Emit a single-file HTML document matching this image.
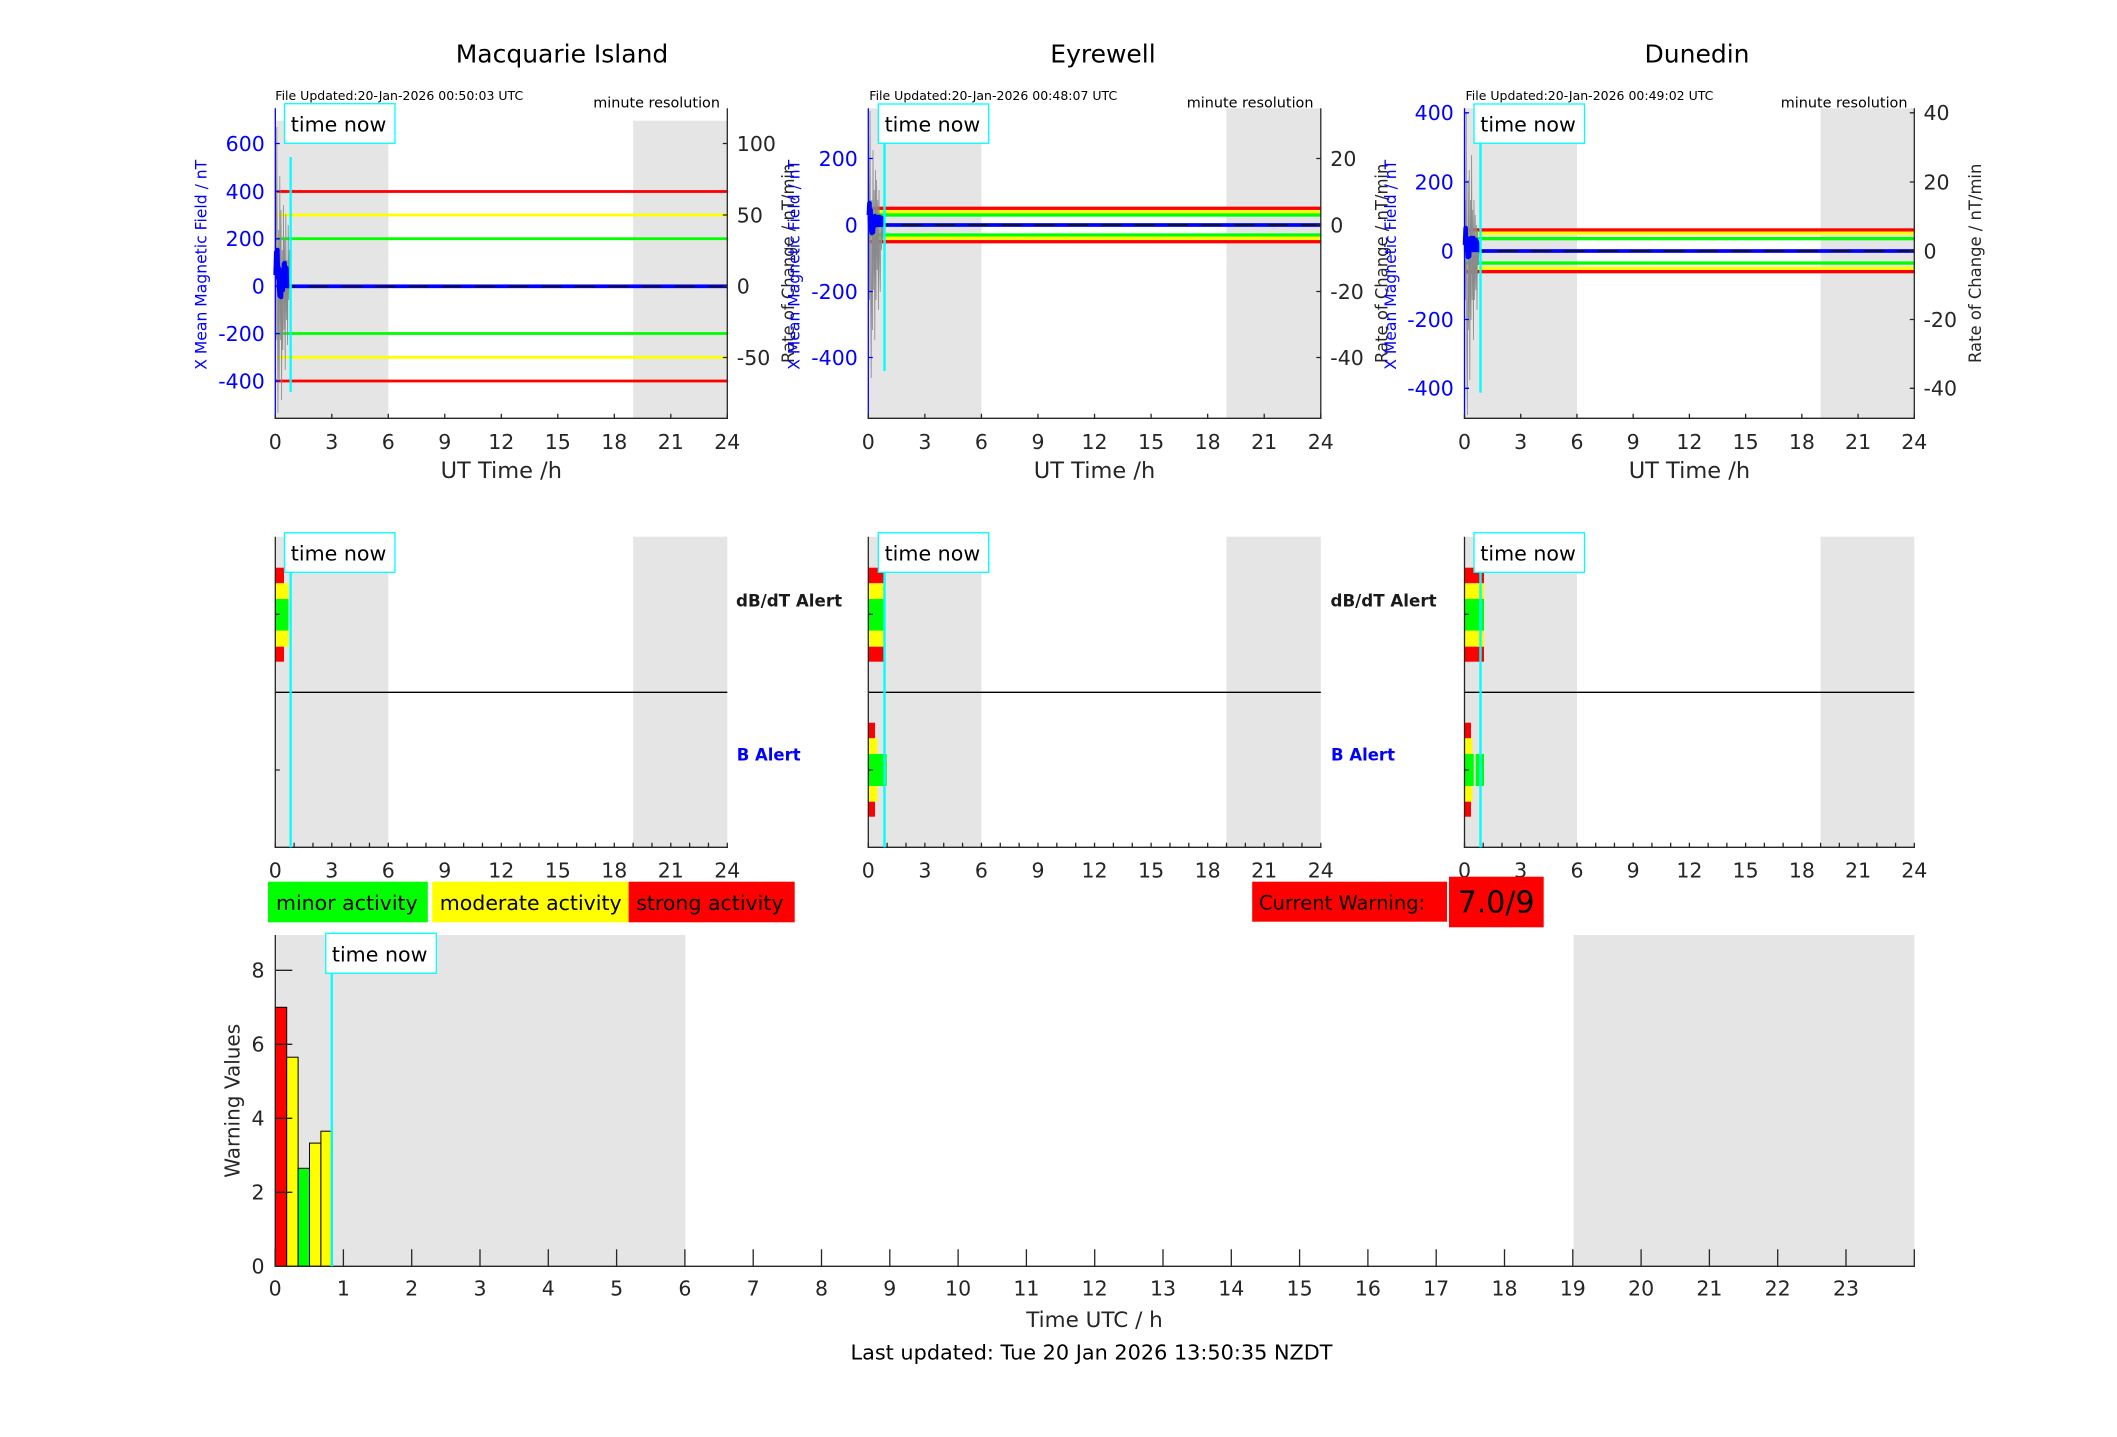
<!DOCTYPE html>
<html><head><meta charset="utf-8">
<style>
html,body{margin:0;padding:0;background:#fff}
svg{display:block}
text{font-family:"DejaVu Sans","Liberation Sans",sans-serif}
</style></head>
<body>
<svg width="2117" height="1437" viewBox="0 0 2117 1437" xmlns="http://www.w3.org/2000/svg">
<rect width="2117" height="1437" fill="#fff"/>

<!-- Titles -->
<text x="562" y="62.3" font-size="25" text-anchor="middle" fill="#000">Macquarie Island</text>
<text x="1103" y="62.3" font-size="25" text-anchor="middle" fill="#000">Eyrewell</text>
<text x="1697" y="62.3" font-size="25" text-anchor="middle" fill="#000">Dunedin</text>

<text x="275.3" y="100" font-size="12.5" fill="#000">File Updated:20-Jan-2026 00:50:03 UTC</text>
<text x="869.3" y="100" font-size="12.5" fill="#000">File Updated:20-Jan-2026 00:48:07 UTC</text>
<text x="1465.5" y="100" font-size="12.5" fill="#000">File Updated:20-Jan-2026 00:49:02 UTC</text>

<text x="720" y="107.3" font-size="14.4" text-anchor="end" fill="#000">minute resolution</text>
<text x="1313.5" y="107.3" font-size="14.4" text-anchor="end" fill="#000">minute resolution</text>
<text x="1907.5" y="107.3" font-size="14.4" text-anchor="end" fill="#000">minute resolution</text>

<!-- ===================== TOP: MACQUARIE ===================== -->
<rect x="275.3" y="120.7" width="113" height="297.6" fill="#e5e5e5"/>
<rect x="633.1" y="120.7" width="94.2" height="297.6" fill="#e5e5e5"/>
<rect x="275.3" y="190.1" width="452" height="2.8" fill="#ff0000"/>
<rect x="275.3" y="213.6" width="452" height="2.8" fill="#ffff00"/>
<rect x="275.3" y="237.3" width="452" height="2.8" fill="#00ff00"/>
<rect x="275.3" y="332.1" width="452" height="2.8" fill="#00ff00"/>
<rect x="275.3" y="355.9" width="452" height="2.8" fill="#ffff00"/>
<rect x="275.3" y="379.6" width="452" height="2.8" fill="#ff0000"/>
<rect x="275.3" y="284.45" width="452" height="3.7" fill="#0000ff"/>
<line x1="275.3" y1="286.3" x2="727.3" y2="286.3" stroke="#111" stroke-width="1.6" stroke-dasharray="20 13.3"/>
<polyline fill="none" stroke="#8a8a8a" stroke-width="0.8" points="275.6,160 276.2,340 276.8,127 277.4,300 278.0,413 278.6,230 279.2,380 279.8,176 280.4,340 281.0,210 281.6,400 282.2,250 282.8,350 283.4,205 284.0,330 284.6,240 285.2,370 285.8,214 286.4,320 287.0,260 287.6,345 288.2,225 288.8,300 289.4,250 290.0,286"/>
<polyline fill="none" stroke="#0000ff" stroke-width="4.5" stroke-linejoin="round" points="275.6,275 276.2,252 276.8,262 277.4,250 278.0,278 278.6,268 279.2,290 279.8,296 280.4,284 281.0,297 281.6,275 282.2,270 282.8,290 283.4,283 284.0,264 284.6,263 285.2,282 285.8,284 286.4,268 287.0,286 289,286"/>
<line x1="275.3" y1="108.3" x2="275.3" y2="418.3" stroke="#0000ff" stroke-width="1.3"/>
<line x1="727.3" y1="108.3" x2="727.3" y2="418.3" stroke="#262626" stroke-width="1.3"/>
<line x1="274.6" y1="418.3" x2="728" y2="418.3" stroke="#262626" stroke-width="1.3"/>
<path d="M275.3 143.5h4.5M275.3 191.5h4.5M275.3 238.8h4.5M275.3 286.3h4.5M275.3 333.6h4.5M275.3 381h4.5" stroke="#0000ff" stroke-width="1.3"/>
<path d="M727.3 143.5h-4.5M727.3 215h-4.5M727.3 286.3h-4.5M727.3 357.5h-4.5" stroke="#262626" stroke-width="1.3"/>
<line x1="274.65" y1="416.05" x2="728" y2="416.05" stroke="#262626" stroke-width="4.5" stroke-dasharray="1.3 55.2"/>
<rect x="289.5" y="157" width="2.3" height="235" fill="#00ffff"/>
<rect x="284.5" y="103.7" width="110.5" height="39.6" fill="#fff" stroke="#00ffff" stroke-width="1.3"/>
<text x="290.8" y="131.7" font-size="20.6" fill="#000">time now</text>
<g font-size="20.5" fill="#0000ff" text-anchor="end">
<text x="264.8" y="150.8">600</text><text x="264.8" y="198.8">400</text><text x="264.8" y="246.1">200</text><text x="264.8" y="293.6">0</text><text x="264.8" y="340.9">-200</text><text x="264.8" y="388.3">-400</text>
</g>
<g font-size="20.5" fill="#262626">
<text x="736.8" y="150.8">100</text><text x="736.8" y="222.3">50</text><text x="736.8" y="293.6">0</text><text x="736.8" y="364.8">-50</text>
</g>
<g font-size="20.5" fill="#262626" text-anchor="middle">
<text x="275.3" y="449">0</text><text x="331.8" y="449">3</text><text x="388.3" y="449">6</text><text x="444.8" y="449">9</text><text x="501.3" y="449">12</text><text x="557.8" y="449">15</text><text x="614.3" y="449">18</text><text x="670.8" y="449">21</text><text x="727.3" y="449">24</text>
</g>
<text x="501.3" y="478.2" font-size="22.5" text-anchor="middle" fill="#262626">UT Time /h</text>
<text transform="translate(206.7,264.8) rotate(-90)" font-size="15.6" text-anchor="middle" fill="#0000ff">X Mean Magnetic Field / nT</text>
<text transform="translate(794,263.3) rotate(-90)" font-size="16.4" text-anchor="middle" fill="#262626">Rate of Change / nT/min</text>

<!-- ===================== TOP: EYREWELL ===================== -->
<rect x="868.3" y="108.3" width="113.1" height="310" fill="#e5e5e5"/>
<rect x="1226.5" y="108.3" width="94.3" height="310" fill="#e5e5e5"/>
<rect x="868.3" y="206.65" width="452.5" height="3.3" fill="#ff0000"/>
<rect x="868.3" y="210.05" width="452.5" height="3.3" fill="#ffff00"/>
<rect x="868.3" y="213.35" width="452.5" height="3.3" fill="#00ff00"/>
<rect x="868.3" y="233.35" width="452.5" height="3.3" fill="#00ff00"/>
<rect x="868.3" y="236.65" width="452.5" height="3.3" fill="#ffff00"/>
<rect x="868.3" y="240.05" width="452.5" height="3.3" fill="#ff0000"/>
<rect x="868.3" y="223.15" width="452.5" height="3.7" fill="#0000ff"/>
<line x1="868.3" y1="225" x2="1320.8" y2="225" stroke="#111" stroke-width="1.6" stroke-dasharray="20 13.3"/>
<polyline fill="none" stroke="#8a8a8a" stroke-width="0.8" points="868.8,160 869.4,300 870.0,111 870.6,280 871.2,378 871.8,200 872.4,330 873.0,150 873.6,290 874.2,190 874.8,340 875.4,170 876.0,300 876.6,180 877.2,270 877.8,200 878.4,310 879.0,190 879.6,260 880.2,292 880.8,215 881.4,250 882.0,225 882.6,240 883.2,225"/>
<polyline fill="none" stroke="#0000ff" stroke-width="4.5" stroke-linejoin="round" points="868.8,215 869.4,203 870,222 870.6,210 871.2,230 871.8,233 872.4,224 873,232 873.6,218 874.2,226 874.8,216 875.4,224 876,217 876.6,225 877.2,217 877.8,224 878.4,218 879,225 879.6,217 880.2,224 880.8,218 881.4,225 882,218 882.6,225 883,225"/>
<line x1="868.3" y1="108.3" x2="868.3" y2="418.3" stroke="#0000ff" stroke-width="1.3"/>
<line x1="1320.8" y1="108.3" x2="1320.8" y2="418.3" stroke="#262626" stroke-width="1.3"/>
<line x1="867.6" y1="418.3" x2="1321.5" y2="418.3" stroke="#262626" stroke-width="1.3"/>
<path d="M868.3 158.5h4.5M868.3 225h4.5M868.3 291.5h4.5M868.3 357.5h4.5" stroke="#0000ff" stroke-width="1.3"/>
<path d="M1320.8 158.5h-4.5M1320.8 225h-4.5M1320.8 291.5h-4.5M1320.8 357.5h-4.5" stroke="#262626" stroke-width="1.3"/>
<line x1="867.65" y1="416.05" x2="1321.5" y2="416.05" stroke="#262626" stroke-width="4.5" stroke-dasharray="1.3 55.26"/>
<rect x="883.3" y="143.3" width="2.4" height="227.7" fill="#00ffff"/>
<rect x="878.3" y="104" width="110.4" height="39.3" fill="#fff" stroke="#00ffff" stroke-width="1.3"/>
<text x="884.6" y="131.7" font-size="20.6" fill="#000">time now</text>
<g font-size="20.5" fill="#0000ff" text-anchor="end">
<text x="857.8" y="165.8">200</text><text x="857.8" y="232.3">0</text><text x="857.8" y="298.8">-200</text><text x="857.8" y="364.8">-400</text>
</g>
<g font-size="20.5" fill="#262626">
<text x="1330.3" y="165.8">20</text><text x="1330.3" y="232.3">0</text><text x="1330.3" y="298.8">-20</text><text x="1330.3" y="364.8">-40</text>
</g>
<g font-size="20.5" fill="#262626" text-anchor="middle">
<text x="868.3" y="449">0</text><text x="924.9" y="449">3</text><text x="981.4" y="449">6</text><text x="1038" y="449">9</text><text x="1094.5" y="449">12</text><text x="1151.1" y="449">15</text><text x="1207.7" y="449">18</text><text x="1264.2" y="449">21</text><text x="1320.8" y="449">24</text>
</g>
<text x="1094.5" y="478.2" font-size="22.5" text-anchor="middle" fill="#262626">UT Time /h</text>
<text transform="translate(799.7,264.8) rotate(-90)" font-size="15.6" text-anchor="middle" fill="#0000ff">X Mean Magnetic Field / nT</text>
<text transform="translate(1387.5,263.3) rotate(-90)" font-size="16.4" text-anchor="middle" fill="#262626">Rate of Change / nT/min</text>

<!-- ===================== TOP: DUNEDIN ===================== -->
<rect x="1464.5" y="108.3" width="112.5" height="310" fill="#e5e5e5"/>
<rect x="1820.6" y="108.3" width="93.7" height="310" fill="#e5e5e5"/>
<rect x="1464.5" y="228.3" width="449.8" height="3.3" fill="#ff0000"/>
<rect x="1464.5" y="231.6" width="449.8" height="3.3" fill="#ffff00"/>
<rect x="1464.5" y="237" width="449.8" height="3.3" fill="#00ff00"/>
<rect x="1464.5" y="261.4" width="449.8" height="3.3" fill="#00ff00"/>
<rect x="1464.5" y="266.7" width="449.8" height="3.3" fill="#ffff00"/>
<rect x="1464.5" y="270" width="449.8" height="3.3" fill="#ff0000"/>
<rect x="1464.5" y="249.15" width="449.8" height="3.7" fill="#0000ff"/>
<line x1="1464.5" y1="251" x2="1914.3" y2="251" stroke="#111" stroke-width="1.6" stroke-dasharray="20 13.3"/>
<polyline fill="none" stroke="#8a8a8a" stroke-width="0.8" points="1465,200 1465.6,300 1466.2,113 1466.8,350 1467.4,415 1468.0,180 1468.6,330 1469.2,170 1469.8,380 1470.4,200 1471.0,320 1471.6,155 1472.2,300 1472.8,210 1473.4,340 1474.0,200 1474.6,300 1475.2,215 1475.8,290 1476.4,225 1477.0,310 1477.6,230 1478.2,265 1479.0,251"/>
<polyline fill="none" stroke="#0000ff" stroke-width="4.5" stroke-linejoin="round" points="1465,245 1465.6,228 1466.2,250 1466.8,238 1467.4,252 1468,257 1468.6,245 1469.2,256 1469.8,240 1470.4,250 1471,238 1471.6,248 1472.2,240 1472.8,250 1473.4,238 1474,248 1474.6,240 1475.2,250 1475.8,240 1476.4,248 1477,242 1477.6,250 1478.2,244 1479,251"/>
<line x1="1464.5" y1="108.3" x2="1464.5" y2="418.3" stroke="#0000ff" stroke-width="1.3"/>
<line x1="1914.3" y1="108.3" x2="1914.3" y2="418.3" stroke="#262626" stroke-width="1.3"/>
<line x1="1463.8" y1="418.3" x2="1915" y2="418.3" stroke="#262626" stroke-width="1.3"/>
<path d="M1464.5 112.8h4.5M1464.5 182h4.5M1464.5 251h4.5M1464.5 319.5h4.5M1464.5 388.3h4.5" stroke="#0000ff" stroke-width="1.3"/>
<path d="M1914.3 112.8h-4.5M1914.3 182h-4.5M1914.3 251h-4.5M1914.3 319.5h-4.5M1914.3 388.3h-4.5" stroke="#262626" stroke-width="1.3"/>
<line x1="1463.85" y1="416.05" x2="1915" y2="416.05" stroke="#262626" stroke-width="4.5" stroke-dasharray="1.3 54.925"/>
<rect x="1479.3" y="143.3" width="2.4" height="249.4" fill="#00ffff"/>
<rect x="1474" y="104" width="110.5" height="39.3" fill="#fff" stroke="#00ffff" stroke-width="1.3"/>
<text x="1480.3" y="131.7" font-size="20.6" fill="#000">time now</text>
<g font-size="20.5" fill="#0000ff" text-anchor="end">
<text x="1453.8" y="120.1">400</text><text x="1453.8" y="189.3">200</text><text x="1453.8" y="258.3">0</text><text x="1453.8" y="326.8">-200</text><text x="1453.8" y="395.6">-400</text>
</g>
<g font-size="20.5" fill="#262626">
<text x="1923.5" y="120.1">40</text><text x="1923.5" y="189.3">20</text><text x="1923.5" y="258.3">0</text><text x="1923.5" y="326.8">-20</text><text x="1923.5" y="395.6">-40</text>
</g>
<g font-size="20.5" fill="#262626" text-anchor="middle">
<text x="1464.5" y="449">0</text><text x="1520.7" y="449">3</text><text x="1577" y="449">6</text><text x="1633.2" y="449">9</text><text x="1689.4" y="449">12</text><text x="1745.6" y="449">15</text><text x="1801.9" y="449">18</text><text x="1858.1" y="449">21</text><text x="1914.3" y="449">24</text>
</g>
<text x="1689.4" y="478.2" font-size="22.5" text-anchor="middle" fill="#262626">UT Time /h</text>
<text transform="translate(1395.9,264.8) rotate(-90)" font-size="15.6" text-anchor="middle" fill="#0000ff">X Mean Magnetic Field / nT</text>
<text transform="translate(1981,263.3) rotate(-90)" font-size="16.4" text-anchor="middle" fill="#262626">Rate of Change / nT/min</text>

<!-- ===================== MIDDLE: MACQUARIE ===================== -->
<rect x="275.3" y="536.7" width="113" height="310.6" fill="#e5e5e5"/>
<rect x="633.1" y="536.7" width="94.2" height="310.6" fill="#e5e5e5"/>
<rect x="275.3" y="567.7" width="8.7" height="15.6" fill="#ff0000"/>
<rect x="275.3" y="583.3" width="13.2" height="15.7" fill="#ffff00"/>
<rect x="275.3" y="599" width="13.2" height="31.7" fill="#00ff00"/>
<rect x="275.3" y="630.7" width="13.2" height="16" fill="#ffff00"/>
<rect x="275.3" y="646.7" width="8.7" height="15" fill="#ff0000"/>
<line x1="275.3" y1="692.3" x2="727.3" y2="692.3" stroke="#000" stroke-width="1.3"/>
<line x1="275.3" y1="536.7" x2="275.3" y2="847.3" stroke="#262626" stroke-width="1.3"/>
<line x1="274.6" y1="847.3" x2="728" y2="847.3" stroke="#262626" stroke-width="1.3"/>
<path d="M275.3 614.3h4.5M275.3 770h4.5" stroke="#262626" stroke-width="1.3"/>
<line x1="274.65" y1="845.05" x2="728" y2="845.05" stroke="#262626" stroke-width="4.5" stroke-dasharray="1.3 17.533"/>
<rect x="289.5" y="572.3" width="2.3" height="275" fill="#00ffff"/>
<rect x="284.5" y="532.7" width="110.5" height="39.6" fill="#fff" stroke="#00ffff" stroke-width="1.3"/>
<text x="290.8" y="560.7" font-size="20.6" fill="#000">time now</text>
<g font-size="20.5" fill="#262626" text-anchor="middle">
<text x="275.3" y="877.4">0</text><text x="331.8" y="877.4">3</text><text x="388.3" y="877.4">6</text><text x="444.8" y="877.4">9</text><text x="501.3" y="877.4">12</text><text x="557.8" y="877.4">15</text><text x="614.3" y="877.4">18</text><text x="670.8" y="877.4">21</text><text x="727.3" y="877.4">24</text>
</g>
<text x="736" y="606.5" font-size="16.7" font-weight="bold" fill="#1a1a1a">dB/dT Alert</text>
<text x="736.7" y="760.7" font-size="16.5" font-weight="bold" fill="#0000ff">B Alert</text>

<!-- ===================== MIDDLE: EYREWELL ===================== -->
<rect x="868.3" y="536.7" width="113.1" height="310.6" fill="#e5e5e5"/>
<rect x="1226.5" y="536.7" width="94.3" height="310.6" fill="#e5e5e5"/>
<rect x="868.3" y="567.7" width="16" height="15.6" fill="#ff0000"/>
<rect x="868.3" y="583.3" width="16" height="15.7" fill="#ffff00"/>
<rect x="868.3" y="599" width="16" height="31.7" fill="#00ff00"/>
<rect x="868.3" y="630.7" width="16" height="16" fill="#ffff00"/>
<rect x="868.3" y="646.7" width="16" height="15" fill="#ff0000"/>
<rect x="868.3" y="722.7" width="6.7" height="15.6" fill="#ff0000"/>
<rect x="868.3" y="738.3" width="9" height="15.7" fill="#ffff00"/>
<rect x="868.3" y="754" width="18.4" height="32" fill="#00ff00"/>
<rect x="868.3" y="786" width="9" height="15.7" fill="#ffff00"/>
<rect x="868.3" y="801.7" width="6.7" height="15" fill="#ff0000"/>
<line x1="868.3" y1="692.3" x2="1320.8" y2="692.3" stroke="#000" stroke-width="1.3"/>
<line x1="868.3" y1="536.7" x2="868.3" y2="847.3" stroke="#262626" stroke-width="1.3"/>
<line x1="867.6" y1="847.3" x2="1321.5" y2="847.3" stroke="#262626" stroke-width="1.3"/>
<path d="M868.3 614.3h4.5M868.3 770h4.5" stroke="#262626" stroke-width="1.3"/>
<line x1="867.65" y1="845.05" x2="1321.5" y2="845.05" stroke="#262626" stroke-width="4.5" stroke-dasharray="1.3 17.554"/>
<rect x="883.3" y="572.3" width="2.4" height="275" fill="#00ffff"/>
<rect x="878.3" y="532.7" width="110.4" height="39.6" fill="#fff" stroke="#00ffff" stroke-width="1.3"/>
<text x="884.6" y="560.7" font-size="20.6" fill="#000">time now</text>
<g font-size="20.5" fill="#262626" text-anchor="middle">
<text x="868.3" y="877.4">0</text><text x="924.9" y="877.4">3</text><text x="981.4" y="877.4">6</text><text x="1038" y="877.4">9</text><text x="1094.5" y="877.4">12</text><text x="1151.1" y="877.4">15</text><text x="1207.7" y="877.4">18</text><text x="1264.2" y="877.4">21</text><text x="1320.8" y="877.4">24</text>
</g>
<text x="1330.5" y="606.5" font-size="16.7" font-weight="bold" fill="#1a1a1a">dB/dT Alert</text>
<text x="1331" y="760.7" font-size="16.5" font-weight="bold" fill="#0000ff">B Alert</text>

<!-- ===================== MIDDLE: DUNEDIN ===================== -->
<rect x="1464.5" y="536.7" width="112.5" height="310.6" fill="#e5e5e5"/>
<rect x="1820.6" y="536.7" width="93.7" height="310.6" fill="#e5e5e5"/>
<rect x="1464.5" y="567.7" width="19.5" height="15.6" fill="#ff0000"/>
<rect x="1464.5" y="583.3" width="19.5" height="15.7" fill="#ffff00"/>
<rect x="1464.5" y="599" width="19.5" height="31.7" fill="#00ff00"/>
<rect x="1464.5" y="630.7" width="19.5" height="16" fill="#ffff00"/>
<rect x="1464.5" y="646.7" width="19.5" height="15" fill="#ff0000"/>
<rect x="1464.5" y="722.7" width="6.5" height="15.6" fill="#ff0000"/>
<rect x="1464.5" y="738.3" width="7.8" height="15.7" fill="#ffff00"/>
<rect x="1464.5" y="754" width="9.2" height="32" fill="#00ff00"/>
<rect x="1475.7" y="754" width="8.3" height="32" fill="#00ff00"/>
<rect x="1464.5" y="786" width="7.8" height="15.7" fill="#ffff00"/>
<rect x="1464.5" y="801.7" width="6.5" height="15" fill="#ff0000"/>
<line x1="1464.5" y1="692.3" x2="1914.3" y2="692.3" stroke="#000" stroke-width="1.3"/>
<line x1="1464.5" y1="536.7" x2="1464.5" y2="847.3" stroke="#262626" stroke-width="1.3"/>
<line x1="1463.8" y1="847.3" x2="1915" y2="847.3" stroke="#262626" stroke-width="1.3"/>
<path d="M1464.5 614.3h4.5M1464.5 770h4.5" stroke="#262626" stroke-width="1.3"/>
<line x1="1463.85" y1="845.05" x2="1915" y2="845.05" stroke="#262626" stroke-width="4.5" stroke-dasharray="1.3 17.442"/>
<rect x="1479.3" y="572.3" width="2.4" height="275" fill="#00ffff"/>
<rect x="1474" y="532.7" width="110.5" height="39.6" fill="#fff" stroke="#00ffff" stroke-width="1.3"/>
<text x="1480.3" y="560.7" font-size="20.6" fill="#000">time now</text>
<g font-size="20.5" fill="#262626" text-anchor="middle">
<text x="1464.5" y="877.4">0</text><text x="1520.7" y="877.4">3</text><text x="1577" y="877.4">6</text><text x="1633.2" y="877.4">9</text><text x="1689.4" y="877.4">12</text><text x="1745.6" y="877.4">15</text><text x="1801.9" y="877.4">18</text><text x="1858.1" y="877.4">21</text><text x="1914.3" y="877.4">24</text>
</g>

<!-- ===================== LEGEND ROW ===================== -->
<rect x="268" y="881.7" width="159.8" height="40.6" fill="#00ff00"/>
<text x="276" y="910" font-size="20.5" fill="#000">minor activity</text>
<rect x="432.2" y="881.7" width="196.4" height="40.6" fill="#ffff00"/>
<text x="439.8" y="910" font-size="20.5" fill="#000">moderate activity</text>
<rect x="628.6" y="881.7" width="166.1" height="40.6" fill="#ff0000"/>
<text x="636.2" y="910" font-size="20.5" fill="#000">strong activity</text>

<rect x="1252.2" y="881.7" width="194.8" height="40" fill="#ff0000"/>
<text x="1259" y="909.5" font-size="19.5" fill="#000">Current Warning:</text>
<rect x="1449" y="876.7" width="94.7" height="50.6" fill="#ff0000"/>
<text x="1457.7" y="912.6" font-size="30" fill="#000">7.0/9</text>

<!-- ===================== BOTTOM CHART ===================== -->
<rect x="275.3" y="935" width="410" height="331.3" fill="#e5e5e5"/>
<rect x="1573.6" y="935" width="340.7" height="331.3" fill="#e5e5e5"/>
<g stroke="#000" stroke-width="1">
<rect x="275.3" y="1007.3" width="11.4" height="259" fill="#ff0000"/>
<rect x="286.7" y="1057.2" width="11.4" height="209.1" fill="#ffff00"/>
<rect x="298.1" y="1168.3" width="11.4" height="98" fill="#00ff00"/>
<rect x="309.5" y="1143.1" width="11.4" height="123.2" fill="#ffff00"/>
<rect x="320.9" y="1131.2" width="11.4" height="135.1" fill="#ffff00"/>
</g>
<line x1="275.3" y1="935" x2="275.3" y2="1266.3" stroke="#262626" stroke-width="1.3"/>
<line x1="274.6" y1="1266.3" x2="1915" y2="1266.3" stroke="#262626" stroke-width="1.3"/>
<path d="M275.3 1192.3h17M275.3 1118.3h17M275.3 1044.3h17M275.3 970.3h17" stroke="#262626" stroke-width="1.3"/>
<line x1="274.45" y1="1257.8" x2="1915" y2="1257.8" stroke="#262626" stroke-width="17" stroke-dasharray="1.3 67"/>
<rect x="330.6" y="973.3" width="2.3" height="293" fill="#00ffff"/>
<rect x="325.7" y="933.3" width="110.6" height="40" fill="#fff" stroke="#00ffff" stroke-width="1.3"/>
<text x="331.9" y="961.7" font-size="20.6" fill="#000">time now</text>
<g font-size="20.5" fill="#262626" text-anchor="end">
<text x="264.5" y="1273.6">0</text><text x="264.5" y="1199.6">2</text><text x="264.5" y="1125.6">4</text><text x="264.5" y="1051.6">6</text><text x="264.5" y="977.6">8</text>
</g>
<g font-size="20.5" fill="#262626" text-anchor="middle">
<text x="275.1" y="1295.7">0</text><text x="343.4" y="1295.7">1</text><text x="411.7" y="1295.7">2</text><text x="480" y="1295.7">3</text><text x="548.3" y="1295.7">4</text><text x="616.6" y="1295.7">5</text><text x="684.9" y="1295.7">6</text><text x="753.2" y="1295.7">7</text><text x="821.5" y="1295.7">8</text><text x="889.8" y="1295.7">9</text><text x="958.1" y="1295.7">10</text><text x="1026.4" y="1295.7">11</text><text x="1094.7" y="1295.7">12</text><text x="1163" y="1295.7">13</text><text x="1231.3" y="1295.7">14</text><text x="1299.6" y="1295.7">15</text><text x="1367.9" y="1295.7">16</text><text x="1436.2" y="1295.7">17</text><text x="1504.5" y="1295.7">18</text><text x="1572.8" y="1295.7">19</text><text x="1641.1" y="1295.7">20</text><text x="1709.4" y="1295.7">21</text><text x="1777.7" y="1295.7">22</text><text x="1846" y="1295.7">23</text>
</g>
<text x="1094.5" y="1327.2" font-size="21.5" text-anchor="middle" fill="#262626">Time UTC / h</text>
<text transform="translate(239.6,1100.8) rotate(-90)" font-size="20" text-anchor="middle" fill="#262626">Warning Values</text>
<text x="1091.5" y="1359.3" font-size="20.8" text-anchor="middle" fill="#000">Last updated: Tue 20 Jan 2026 13:50:35 NZDT</text>
</svg>
</body></html>
